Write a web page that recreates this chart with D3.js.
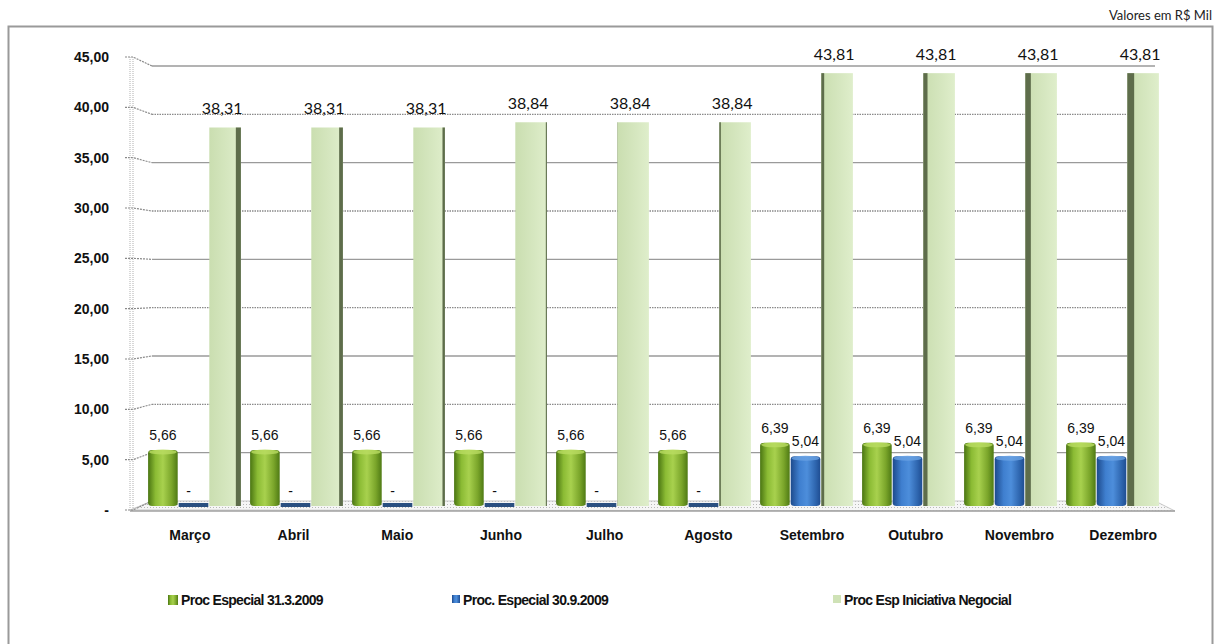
<!DOCTYPE html>
<html>
<head>
<meta charset="utf-8">
<script src="https://cdn.jsdelivr.net/npm/d3@7"></script>
<style>
  body { margin: 0; background: #fff; }
  svg { display: block; }
</style>
</head>
<body>
<div id="chart"></div>
<script>
// data
var months = ["Março", "Abril", "Maio", "Junho", "Julho", "Agosto", "Setembro", "Outubro", "Novembro", "Dezembro"];
var procEsp31 = [5.66, 5.66, 5.66, 5.66, 5.66, 5.66, 6.39, 6.39, 6.39, 6.39];
var procEsp30 = [0, 0, 0, 0, 0, 0, 5.04, 5.04, 5.04, 5.04];
var procIniciativa = [38.31, 38.31, 38.31, 38.84, 38.84, 38.84, 43.81, 43.81, 43.81, 43.81];
var seriesNames = ["Proc Especial 31.3.2009", "Proc. Especial 30.9.2009", "Proc Esp Iniciativa Negocial"];
var yTicks = [0, 5, 10, 15, 20, 25, 30, 35, 40, 45];

var W = 1216, H = 644;

var svg = d3.select("#chart").append("svg")
    .attr("width", W)
    .attr("height", H);

var defs = svg.append("defs");

function cylGrad(id, stops) {
    var g = defs.append("linearGradient").attr("id", id)
        .attr("x1", "0%").attr("x2", "100%").attr("y1", "0%").attr("y2", "0%");
    stops.forEach(function(s) {
        g.append("stop").attr("offset", s[0]).attr("stop-color", s[1]);
    });
}
cylGrad("gGreen", [["0%", "#4a7512"], ["25%", "#8bbb34"], ["50%", "#a8d14e"], ["80%", "#7aa52a"], ["100%", "#4f7a14"]]);
cylGrad("gBlue", [["0%", "#1d4a8c"], ["30%", "#3f7fcf"], ["55%", "#4d8edb"], ["85%", "#2d64ad"], ["100%", "#1f4d92"]]);
cylGrad("gLight", [["0%", "#cadeb0"], ["60%", "#d6e7c0"], ["100%", "#dfeecb"]]);

var dots = defs.append("pattern").attr("id", "dots")
    .attr("width", 3).attr("height", 3).attr("patternUnits", "userSpaceOnUse");
dots.append("rect").attr("width", 3).attr("height", 3).attr("fill", "#f6f6f6");
dots.append("rect").attr("width", 1).attr("height", 1).attr("fill", "#b8b8b8");

// outer frame
svg.append("rect")
    .attr("x", 8.5).attr("y", 26.5)
    .attr("width", 1204).attr("height", 640)
    .attr("fill", "none")
    .attr("stroke", "#9a9a9a")
    .attr("stroke-width", 2);

svg.append("text")
    .attr("x", 1212).attr("y", 20)
    .attr("text-anchor", "end")
    .style("font-family", "Lato, 'Open Sans', sans-serif")
    .style("font-size", "13px")
    .attr("fill", "#222")
    .text("Valores em R$ Mil");

// scales: front edge (axis), back wall, bars in the middle
var yAxisScale = d3.scaleLinear().domain([0, 45]).range([510, 57]);
var yWall = d3.scaleLinear().domain([0, 45]).range([501, 66]);
var yBar = d3.scaleLinear().domain([0, 45]).range([506, 61.4]);

var axisX = 130, wallX0 = 152, wallX1 = 1155;

var xLabel = d3.scaleBand().domain(months).range([138, 1175]);
var x0 = d3.scaleBand().domain(months).range([143, 1163]).paddingInner(0.1).paddingOuter(0.05);
var x1 = d3.scaleBand().domain([0, 1, 2]).range([0, x0.bandwidth()]);

var fmt = function(v) { return v === 0 ? "-" : d3.format(".2f")(v).replace(".", ","); };

// floor
svg.append("polygon")
    .attr("points", [[axisX, 510], [wallX0, 501], [wallX1, 501], [1175, 511]].join(" "))
    .attr("fill", "url(#dots)")
    .attr("stroke", "#c8c8c8");
svg.append("line")
    .attr("x1", axisX).attr("x2", 1175).attr("y1", 511).attr("y2", 511)
    .attr("stroke", "#a0a0a0").attr("stroke-width", 1.5);

// gridlines on back wall
svg.append("g").selectAll("line")
    .data(yTicks.filter(function(t) { return t > 0; }))
    .join("line")
    .attr("x1", wallX0).attr("x2", wallX1)
    .attr("y1", function(d) { return yWall(d); })
    .attr("y2", function(d) { return yWall(d); })
    .attr("stroke", function(d, i) { return i % 2 === 0 ? "#9a9a9a" : "#8a8a8a"; })
    .attr("stroke-dasharray", function(d, i) { return i % 2 === 0 ? null : "1.5,1"; })
    .attr("stroke-width", 1.4);

// tick connectors
svg.append("g").selectAll("path")
    .data(yTicks)
    .join("path")
    .attr("d", function(d) {
        return "M" + (axisX - 5) + "," + yAxisScale(d) + "L" + (axisX + 3) + "," + yAxisScale(d) +
            "L" + wallX0 + "," + yWall(d);
    })
    .attr("fill", "none")
    .attr("stroke", "#8a8a8a")
    .attr("stroke-dasharray", "2,1")
    .attr("stroke-width", 1.2);

// side wall edges (dotted)
[axisX, axisX + 3].forEach(function(x) {
    svg.append("line")
        .attr("x1", x).attr("x2", x)
        .attr("y1", 57).attr("y2", 511)
        .attr("stroke", "#b0b0b0")
        .attr("stroke-dasharray", "1,1");
});

// y axis labels
svg.append("g").selectAll("text")
    .data(yTicks)
    .join("text")
    .attr("x", 109)
    .attr("y", function(d) { return yAxisScale(d); })
    .attr("dy", "0.35em")
    .attr("text-anchor", "end")
    .style("font-family", "'Liberation Sans', Arial, sans-serif")
    .style("font-weight", "bold")
    .style("font-size", "14px")
    .attr("fill", "#111")
    .text(fmt);

// bars
var groups = svg.append("g").selectAll("g")
    .data(months)
    .join("g")
    .attr("transform", function(d) { return "translate(" + x0(d) + ",0)"; });

var bw = x1.bandwidth();

// light green (3D box with side face)
groups.each(function(m, i) {
    var g = d3.select(this);
    var v = procIniciativa[i];
    var bx = x1(2), w = bw + 1;
    var cx = x0(m) + bx + w / 2;
    var side = Math.min(8, Math.abs(cx - 615) * 0.013);
    g.append("rect")
        .attr("x", bx).attr("y", yBar(v))
        .attr("width", w).attr("height", yBar(0) - yBar(v))
        .attr("fill", "url(#gLight)");
    g.append("rect")
        .attr("x", cx < 615 ? bx + w - side : bx)
        .attr("y", yBar(v))
        .attr("width", side).attr("height", yBar(0) - yBar(v))
        .attr("fill", "#5e6d4b");
    g.append("text")
        .attr("x", bx + w / 2 - 3)
        .attr("y", yBar(v) - 13)
        .attr("text-anchor", "middle")
        .style("font-family", "Lato, 'Open Sans', sans-serif")
        .style("font-size", "16px")
        .attr("fill", "#111")
        .text(fmt(v));
});

// cylinders for the two Proc Especial series
function cylinder(sel, values, idx, grad, topColor, zeroColor) {
    sel.each(function(m, i) {
        var g = d3.select(this);
        var v = values[i];
        var bx = x1(idx), w = bw - 1;
        if (v > 0) {
            g.append("rect")
                .attr("x", bx).attr("y", yBar(v))
                .attr("width", w).attr("height", yBar(0) - yBar(v))
                .attr("rx", 4).attr("ry", 3)
                .attr("fill", "url(#" + grad + ")");
            g.append("ellipse")
                .attr("cx", bx + w / 2).attr("cy", yBar(v) + 2)
                .attr("rx", w / 2 - 1).attr("ry", 2.5)
                .attr("fill", topColor)
                .attr("opacity", 0.8);
        } else {
            g.append("rect")
                .attr("x", bx).attr("y", yBar(0) - 3)
                .attr("width", w).attr("height", 4)
                .attr("fill", zeroColor);
        }
        g.append("text")
            .attr("x", bx + w / 2 - (v === 0 ? 5 : 0))
            .attr("y", yBar(v) - 10)
            .attr("text-anchor", "middle")
            .style("font-family", "'Liberation Sans', Arial, sans-serif")
            .style("font-size", "14px")
            .attr("fill", "#111")
            .text(fmt(v));
    });
}
cylinder(groups, procEsp31, 0, "gGreen", "#b9dc62", "#4a7512");
cylinder(groups, procEsp30, 1, "gBlue", "#6aa2e4", "#2a4f80");

// category labels
svg.append("g").selectAll("text")
    .data(months)
    .join("text")
    .attr("x", function(d) { return xLabel(d) + xLabel.bandwidth() / 2; })
    .attr("y", 535)
    .attr("dy", "0.35em")
    .attr("text-anchor", "middle")
    .style("font-family", "'Liberation Sans', Arial, sans-serif")
    .style("font-weight", "bold")
    .style("font-size", "14px")
    .attr("fill", "#111")
    .text(function(d) { return d; });

// legend
var legendX = [168, 452, 833];
var legendFill = ["url(#gGreen)", "url(#gBlue)", "#cfe2b6"];
var legend = svg.append("g").selectAll("g")
    .data(seriesNames)
    .join("g")
    .attr("transform", function(d, i) { return "translate(" + legendX[i] + ",600)"; });
legend.append("rect")
    .attr("x", 0).attr("y", -5)
    .attr("width", function(d, i) { return i === 0 ? 10 : 8; })
    .attr("height", function(d, i) { return i === 0 ? 10 : 8; })
    .attr("fill", function(d, i) { return legendFill[i]; });
legend.append("text")
    .attr("x", function(d, i) { return i === 0 ? 13 : 11; })
    .attr("y", 0)
    .attr("dy", "0.35em")
    .style("font-family", "'Liberation Sans', Arial, sans-serif")
    .style("font-weight", "bold")
    .style("font-size", "14px")
    .style("letter-spacing", "-0.7px")
    .attr("fill", "#111")
    .text(function(d) { return d; });
</script>
</body>
</html>
